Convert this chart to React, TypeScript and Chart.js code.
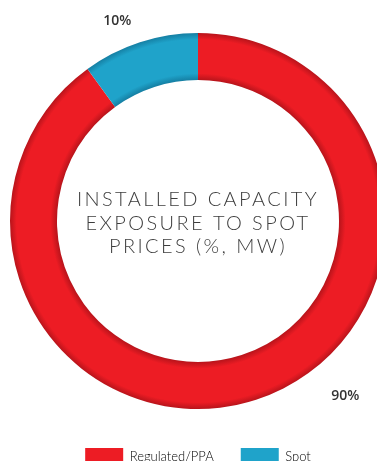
import React, { useEffect, useRef } from "react";
import { Chart, registerables } from "chart.js";

Chart.register(...registerables);

const categories = ["Regulated/PPA", "Spot"];
const values = [90, 10];
const valueLabels = ["90%", "10%"];
const centerTitle = ["INSTALLED CAPACITY", "EXPOSURE TO SPOT", "PRICES (%, MW)"];

const baseColors = ["#ED1C24", "#1FA3CA"];
const edgeColors = ["#B8141B", "#157FA3"];
const RADIUS = 188;
const CUTOUT = 0.75;
// label placement: fraction along each arc and distance beyond outer edge
const labelFrac = [0.432, 0.39];
const labelOffset = [41, 28];

export default function App() {
  const ref = useRef<HTMLCanvasElement | null>(null);

  useEffect(() => {
    const canvas = ref.current!;
    const ringFill = (ctx: any) => {
      const chart = ctx.chart;
      const area = chart.chartArea;
      const i = ctx.dataIndex ?? 0;
      if (!area) return baseColors[i];
      const cx = (area.left + area.right) / 2;
      const cy = (area.top + area.bottom) / 2;
      const inner = RADIUS * CUTOUT;
      const g = chart.ctx.createRadialGradient(cx, cy, inner, cx, cy, RADIUS);
      g.addColorStop(0, edgeColors[i]);
      g.addColorStop(0.14, baseColors[i]);
      g.addColorStop(0.86, baseColors[i]);
      g.addColorStop(1, edgeColors[i]);
      return g;
    };

    const overlay = {
      id: "overlay",
      afterDatasetsDraw(chart: any) {
        const c = chart.ctx;
        const meta = chart.getDatasetMeta(0);
        c.save();
        // value labels
        c.font = "600 14px 'Open Sans'";
        c.fillStyle = "#333333";
        c.textAlign = "center";
        c.textBaseline = "middle";
        meta.data.forEach((arc: any, i: number) => {
          const a = arc.startAngle + labelFrac[i] * (arc.endAngle - arc.startAngle);
          const r = arc.outerRadius + labelOffset[i];
          c.fillText(valueLabels[i], arc.x + Math.cos(a) * r, arc.y + Math.sin(a) * r);
        });
        // center title
        const arc0 = meta.data[0];
        c.font = "300 20px Lato";
        (c as any).letterSpacing = "2.4px";
        c.fillStyle = "#3d3d3d";
        const lh = 23.5;
        centerTitle.forEach((line, k) => {
          c.fillText(line, arc0.x, arc0.y - 21 + k * lh);
        });
        c.restore();
      },
    };

    const chart = new Chart(canvas, {
      type: "doughnut",
      data: {
        labels: categories,
        datasets: [
          {
            data: values,
            backgroundColor: ringFill as any,
            borderWidth: 0,
            hoverOffset: 0,
          },
        ],
      },
      options: {
        responsive: false,
        animation: false,
        radius: RADIUS,
        cutout: CUTOUT * 100 + "%",
        layout: { padding: { top: 21, left: 0, right: 0, bottom: 0 } },
        plugins: {
          tooltip: { enabled: false },
          legend: {
            position: "bottom",
            labels: {
              boxWidth: 38,
              boxHeight: 18,
              padding: 27,
              color: "#666666",
              font: { family: "Lato", size: 13, weight: "300" as any },
              generateLabels: (ch: any) =>
                categories.map((t, i) => ({
                  text: t,
                  fillStyle: baseColors[i],
                  strokeStyle: baseColors[i],
                  lineWidth: 0,
                  hidden: false,
                  index: i,
                  datasetIndex: 0,
                })),
            },
          },
        },
      },
      plugins: [overlay],
    });
    return () => chart.destroy();
  }, []);

  return (
    <div
      style={{
        position: "fixed",
        left: 0,
        top: 0,
        width: 377,
        height: 461,
        overflow: "hidden",
        background: "#ffffff",
      }}
    >
      <canvas ref={ref} width={396} height={476} style={{ display: "block" }} />
    </div>
  );
}
